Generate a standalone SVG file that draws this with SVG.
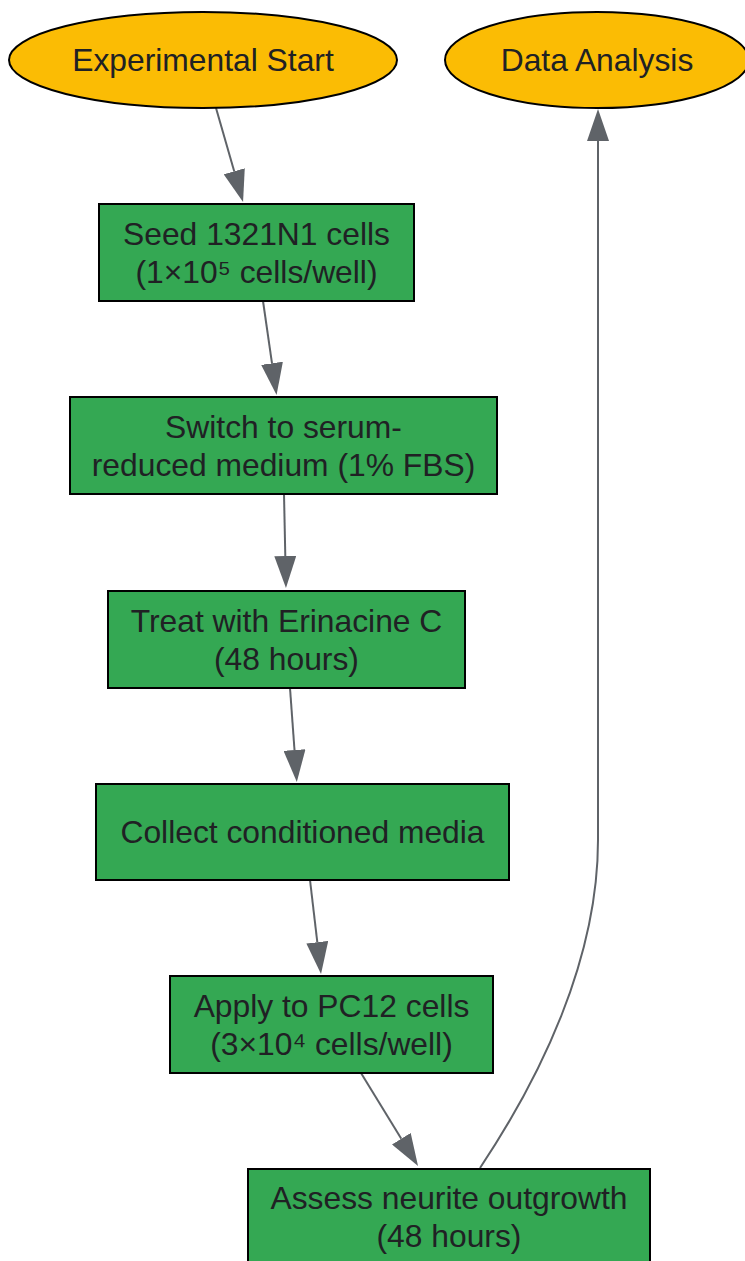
<svg xmlns="http://www.w3.org/2000/svg" width="745" height="1261" viewBox="0 0 745 1261">
<style>
.term{fill:#FBBC04;stroke:#000;stroke-width:2}
.step{fill:#34A853;stroke:#000;stroke-width:2}
.lbl{font-family:"Liberation Sans",Arial,sans-serif;font-size:31.8px;fill:#202124;text-anchor:middle}
.edge{fill:none;stroke:#5F6368;stroke-width:2}
</style>
<defs>
<marker id="arr" markerUnits="userSpaceOnUse" markerWidth="33" markerHeight="22" refX="0" refY="11" orient="auto" viewBox="0 0 33 22">
<path d="M0,0 L32,11 L0,22 z" fill="#5F6368"/>
</marker>
</defs>
<rect width="745" height="1261" fill="#fff"/>
<g id="connectors">
<line class="edge" x1="216" y1="108" x2="234.2" y2="171.2" marker-end="url(#arr)"/>
<line class="edge" x1="263" y1="301" x2="272" y2="363.3" marker-end="url(#arr)"/>
<line class="edge" x1="284" y1="494" x2="285.3" y2="556" marker-end="url(#arr)"/>
<line class="edge" x1="290" y1="688" x2="294.5" y2="750" marker-end="url(#arr)"/>
<line class="edge" x1="310" y1="880" x2="317.3" y2="942.2" marker-end="url(#arr)"/>
<line class="edge" x1="361" y1="1073" x2="401.3" y2="1138.7" marker-end="url(#arr)"/>
<path class="edge" d="M480,1168 C540,1078 598,960 598,840 L598,141" marker-end="url(#arr)"/>
</g>
<g id="start">
<ellipse class="term" cx="203" cy="60" rx="194" ry="48"/>
<text class="lbl" x="203" y="71">Experimental Start</text>
</g>
<g id="analysis">
<ellipse class="term" cx="597" cy="60" rx="152" ry="48"/>
<text class="lbl" x="597" y="71">Data Analysis</text>
</g>
<g id="seed">
<rect class="step" x="99" y="204" width="315" height="97"/>
<text class="lbl" x="256.5" y="245">Seed 1321N1 cells</text>
<text class="lbl" x="256.5" y="283">(1×10⁵ cells/well)</text>
</g>
<g id="switch">
<rect class="step" x="70" y="397" width="427" height="97"/>
<text class="lbl" x="283.5" y="438">Switch to serum-</text>
<text class="lbl" x="283.5" y="476">reduced medium (1% FBS)</text>
</g>
<g id="treat">
<rect class="step" x="108" y="591" width="357" height="97"/>
<text class="lbl" x="286.5" y="632">Treat with Erinacine C</text>
<text class="lbl" x="286.5" y="670">(48 hours)</text>
</g>
<g id="collect">
<rect class="step" x="96" y="784" width="413" height="96"/>
<text class="lbl" x="302.5" y="843">Collect conditioned media</text>
</g>
<g id="apply">
<rect class="step" x="170" y="976" width="323" height="97"/>
<text class="lbl" x="331.5" y="1017">Apply to PC12 cells</text>
<text class="lbl" x="331.5" y="1055">(3×10⁴ cells/well)</text>
</g>
<g id="assess">
<rect class="step" x="248" y="1169" width="402" height="97"/>
<text class="lbl" x="449" y="1209">Assess neurite outgrowth</text>
<text class="lbl" x="449" y="1247">(48 hours)</text>
</g>
</svg>
